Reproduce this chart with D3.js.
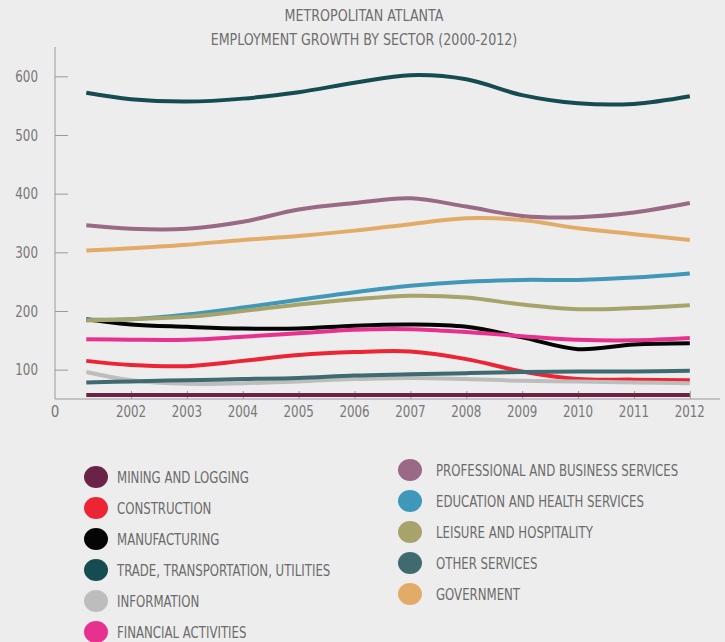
<!DOCTYPE html>
<html>
<head>
<meta charset="utf-8">
<script src="https://cdn.jsdelivr.net/npm/d3@7"></script>
<style>
  html, body { margin: 0; padding: 0; background: #ededed; }
  svg { display: block; }
  text { font-family: "Liberation Sans Narrow", "DejaVu Sans Condensed", "Roboto Condensed", sans-serif; }
</style>
</head>
<body>
<svg id="chart" width="725" height="642"></svg>
<script>
// Sample points along the time axis (first sample falls shortly after 2001)
const years = [2001.2, 2002, 2003, 2004, 2005, 2006, 2007, 2008, 2009, 2010, 2011, 2012];
const tickYears = [2002, 2003, 2004, 2005, 2006, 2007, 2008, 2009, 2010, 2011, 2012];
const yTicks = [100, 200, 300, 400, 500, 600];

// Employment by sector (thousands)
const mining        = [57, 57, 57, 57, 57, 57, 57, 57, 57, 57, 57, 57];
const construction  = [115, 108, 106, 115, 125, 130, 131, 118, 97, 84, 83, 82];
const manufacturing = [186, 177, 173, 170, 170, 175, 177, 173, 155, 135, 143, 145];
const trade         = [572, 561, 557, 562, 573, 589, 602, 595, 568, 554, 553, 566];
const information   = [96, 82, 76, 77, 80, 84, 86, 84, 81, 80, 78, 77];
const financial     = [152, 151, 151, 156, 162, 168, 169, 164, 157, 151, 150, 154];
const professional  = [346, 340, 340, 352, 373, 384, 392, 378, 362, 360, 368, 384];
const education     = [185, 186, 194, 206, 219, 232, 243, 250, 253, 253, 257, 264];
const leisure       = [184, 186, 190, 200, 211, 220, 226, 223, 211, 203, 205, 210];
const otherServices = [78, 80, 82, 84, 86, 90, 92, 94, 96, 97, 97, 98];
const government    = [303, 307, 313, 321, 328, 337, 348, 358, 355, 341, 331, 321];

const sectorNames = [
  "MINING AND LOGGING", "CONSTRUCTION", "MANUFACTURING",
  "TRADE, TRANSPORTATION, UTILITIES", "INFORMATION", "FINANCIAL ACTIVITIES",
  "PROFESSIONAL AND BUSINESS SERVICES", "EDUCATION AND HEALTH SERVICES",
  "LEISURE AND HOSPITALITY", "OTHER SERVICES", "GOVERNMENT"
];
const sectorValues = [
  mining, construction, manufacturing, trade, information, financial,
  professional, education, leisure, otherServices, government
];
const sectorColors = [
  "#6a2347", "#ec2434", "#050505", "#154c52", "#bdbdbd", "#e8318e",
  "#9a6985", "#3f98b9", "#a6a46b", "#3f6a70", "#e3ab68"
];

const series = sectorNames.map((name, i) => ({
  name,
  color: sectorColors[i],
  points: years.map((yr, j) => ({ year: yr, value: sectorValues[i][j] }))
}));

const svg = d3.select("#chart");
const axisColor = "#9a9a9a";
const labelColor = "#787878";

// Narrow the set type horizontally while keeping its height
function squeeze(sel, factor) {
  sel.each(function () {
    const w = this.getComputedTextLength();
    d3.select(this)
      .attr("textLength", (w * factor).toFixed(1))
      .attr("lengthAdjust", "spacingAndGlyphs");
  });
}

const x = d3.scaleLinear().domain([2000.64, 2012.54]).range([55, 720]);
const y = d3.scaleLinear().domain([50, 650]).range([399, 47]);

// Title
const titles = svg.append("g").selectAll("text")
  .data(["METROPOLITAN ATLANTA", "EMPLOYMENT GROWTH BY SECTOR (2000-2012)"])
  .join("text")
  .attr("x", 364).attr("y", (d, i) => 21 + i * 24)
  .attr("text-anchor", "middle")
  .attr("font-size", 16).attr("fill", "#6e6e6e")
  .text(d => d);
squeeze(titles, 0.88);

// Y axis with inward ticks
const yAxis = d3.axisRight(y).tickValues(yTicks).tickSize(13).tickFormat("");
const gy = svg.append("g").attr("transform", `translate(${x.range()[0]},0)`).call(yAxis);
gy.select(".domain").remove();
gy.selectAll(".tick line").attr("stroke", axisColor);
svg.append("line")
  .attr("x1", x.range()[0]).attr("x2", x.range()[0])
  .attr("y1", y.range()[1]).attr("y2", y.range()[0])
  .attr("stroke", axisColor);
const yLabels = svg.append("g").selectAll("text").data(yTicks).join("text")
  .attr("x", 38).attr("y", d => y(d) + 5.5)
  .attr("text-anchor", "end")
  .attr("font-size", 15).attr("fill", labelColor)
  .text(d => d);
squeeze(yLabels, 0.88);

// X axis with inward ticks
const xAxis = d3.axisTop(x).tickValues(tickYears).tickSize(8).tickFormat("");
const gx = svg.append("g").attr("transform", `translate(0,${y.range()[0]})`).call(xAxis);
gx.select(".domain").remove();
gx.selectAll(".tick line").attr("stroke", axisColor);
svg.append("line")
  .attr("x1", x.range()[0]).attr("x2", x.range()[1])
  .attr("y1", y.range()[0]).attr("y2", y.range()[0])
  .attr("stroke", axisColor);
const xLabels = svg.append("g").selectAll("text").data(tickYears).join("text")
  .attr("x", d => x(d)).attr("y", 417)
  .attr("text-anchor", "middle")
  .attr("font-size", 15).attr("fill", labelColor)
  .text(d => d);
squeeze(xLabels, 0.88);
svg.append("text")
  .attr("x", x.range()[0]).attr("y", 417)
  .attr("text-anchor", "middle")
  .attr("font-size", 15).attr("fill", labelColor)
  .text("0");

// Sector lines
const line = d3.line()
  .x(d => x(d.year))
  .y(d => y(d.value))
  .curve(d3.curveCatmullRom.alpha(0.5));

svg.append("g").selectAll("path").data(series).join("path")
  .attr("d", d => line(d.points))
  .attr("fill", "none")
  .attr("stroke", d => d.color)
  .attr("stroke-width", 4)
  .attr("stroke-linecap", "butt");

// Legend in two columns
const leftCol = series.slice(0, 6);
const rightCol = series.slice(6);
function drawLegend(items, cx, tx, top) {
  const g = svg.append("g");
  const rows = g.selectAll("g").data(items).join("g")
    .attr("transform", (d, i) => `translate(0,${top + i * 31})`);
  rows.append("ellipse")
    .attr("cx", cx).attr("cy", 0).attr("rx", 12).attr("ry", 11)
    .attr("fill", d => d.color);
  const labels = rows.append("text")
    .attr("x", tx).attr("y", 5.5)
    .attr("font-size", 15).attr("fill", "#6b6b6b")
    .text(d => d.name);
  squeeze(labels, 0.87);
}
drawLegend(leftCol, 96, 117, 477);
drawLegend(rightCol, 410, 436, 470);
</script>
</body>
</html>
